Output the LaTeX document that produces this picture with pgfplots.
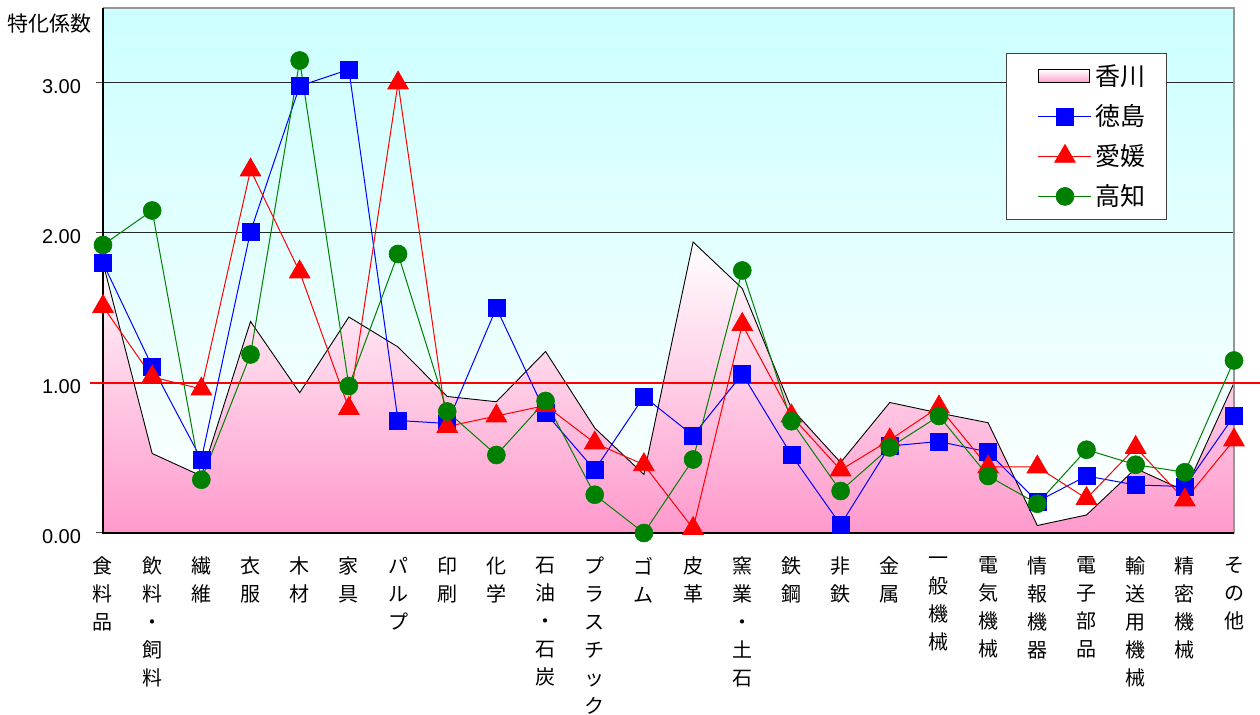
\documentclass[border=0pt]{standalone}
\usepackage{pgfplots}
\pgfplotsset{compat=1.18}
\usepackage{pgfplotstable}
\usepackage{fontspec}
\setmainfont{Liberation Sans}
\newfontfamily\cjk{Noto Sans CJK JP}

\definecolor{cyantop}{RGB}{204,255,255}
\definecolor{pinkbottom}{RGB}{255,153,204}
\definecolor{kgreen}{RGB}{0,128,0}
\definecolor{frame}{RGB}{150,150,150}

% legend pictures: a short line with one mark, and a shaded patch
\pgfplotsset{
  lineimg/.style={legend image code/.code={%
    \path[draw=none, fill=none] (0pt,0pt) -- (7.5pt,0pt);
    \draw[mark repeat=2, mark phase=2, ##1]
      plot coordinates {(7.5pt,0pt) (20.75pt,0pt) (34pt,0pt)};}},
  areaimg/.style={legend image code/.code={%
    \path[draw=none, fill=none] (0pt,0pt) -- (7.5pt,0pt);
    \draw[##1] (7.5pt,-3.25pt) rectangle (33pt,3.25pt);}},
}

% specialization coefficients by industry
\pgfplotstableread{
x  kagawa tokushima ehime kochi
0  1.80   1.80   1.51   1.92
1  0.53   1.11   1.04   2.15
2  0.38   0.49   0.96   0.355
3  1.41   2.01   2.42   1.19
4  0.935  2.98   1.74   3.15
5  1.44   3.09   0.83   0.98
6  1.24   0.75   3.00   1.86
7  0.91   0.73   0.71   0.81
8  0.875  1.50   0.78   0.52
9  1.21   0.80   0.85   0.88
10 0.70   0.42   0.60   0.255
11 0.39   0.91   0.455  0.00
12 1.94   0.65   0.03   0.49
13 1.63   1.06   1.39   1.75
14 0.83   0.52   0.78   0.745
15 0.47   0.055  0.42   0.28
16 0.87   0.58   0.62   0.57
17 0.80   0.61   0.84   0.78
18 0.735  0.54   0.44   0.38
19 0.05   0.21   0.44   0.195
20 0.12   0.38   0.23   0.555
21 0.43   0.32   0.57   0.455
22 0.28   0.31   0.22   0.405
23 1.00   0.78   0.62   1.15
}\coef

\begin{document}
\begin{tikzpicture}
\begin{axis}[
  at={(0,0)}, anchor=south west,
  scale only axis, width=565.5pt, height=262.5pt,
  xmin=0, xmax=23, ymin=0, ymax=3.5,
  clip=false,
  axis background/.style={top color=cyantop, bottom color=white},
  axis line style={draw=none},
  ymajorgrids, grid style={black!85, line width=0.5pt},
  tick pos=left,
  xtick align=inside, ytick align=outside,
  major tick length=3.5pt,
  tick style={black!75, line width=0.5pt},
  ytick={0,1,2,3},
  yticklabel style={font=\fontsize{10}{12}\selectfont, xshift=-4pt, yshift=-2pt},
  /pgf/number format/.cd, fixed, fixed zerofill, precision=2, assume math mode=true,
  /pgfplots/.cd,
  xtick={0,...,23},
  xticklabels={
    {食\\料\\品},{飲\\料\\・\\飼\\料},{繊\\維},{衣\\服},{木\\材},{家\\具},
    {パ\\ル\\プ},{印\\刷},{化\\学},{石\\油\\・\\石\\炭},{プ\\ラ\\ス\\チ\\ッ\\ク},
    {ゴ\\ム},{皮\\革},{窯\\業\\・\\土\\石},{鉄\\鋼},{非\\鉄},{金\\属},
    {一\\般\\機\\械},{電\\気\\機\\械},{情\\報\\機\\器},{電\\子\\部\\品},
    {輸\\送\\用\\機\\械},{精\\密\\機\\械},{そ\\の\\他}},
  xticklabel style={font=\cjk\fontsize{10}{14}\selectfont, align=center,
    anchor=north, yshift=-8.5pt},
  legend cell align=left,
  legend style={at={(0.7984,0.9143)}, anchor=north west,
    draw=black!75, line width=0.5pt, fill=white,
    font=\cjk\fontsize{12.5}{14}\selectfont,
    inner xsep=8.5pt, inner ysep=3.5pt, row sep=4pt},
  lineimg,
]

% Kagawa as a shaded area
\addplot[draw=black, line width=0.45pt, top color=white, bottom color=pinkbottom, areaimg]
  table[x=x, y=kagawa] {\coef} \closedcycle;
\addlegendentry{香川}

% frame of the plot area
\draw[frame, line width=1.2pt] (rel axis cs:0,1) -- (rel axis cs:1,1) -- (rel axis cs:1,0);
\draw[black, line width=1.3pt] (rel axis cs:0,1) -- (rel axis cs:0,0) -- (rel axis cs:1,0);

% reference level 1.00
\draw[red, line width=1pt] ([xshift=-6.5pt]axis cs:0,1) -- ([xshift=13pt]axis cs:23,1);

\addplot[blue, line width=0.5pt, mark=square*, mark size=4.25pt,
  mark options={fill=blue, draw=blue, line width=0.3pt}]
  table[x=x, y=tokushima] {\coef};
\addlegendentry{徳島}

\addplot[red, line width=0.5pt, mark=triangle*, mark size=6pt,
  mark options={fill=red, draw=red, line width=0.3pt}]
  table[x=x, y=ehime] {\coef};
\addlegendentry{愛媛}

\addplot[kgreen, line width=0.5pt, mark=*, mark size=4.5pt,
  mark options={fill=kgreen, draw=kgreen, line width=0.3pt}]
  table[x=x, y=kochi] {\coef};
\addlegendentry{高知}

\node[font=\cjk\fontsize{10.5}{12}\selectfont]
  at ([xshift=-26.5pt, yshift=-8pt]rel axis cs:0,1) {特化係数};
\end{axis}
\pgfresetboundingbox
\path (-51.5pt,-91pt) rectangle (578.5pt,266.5pt);
\end{tikzpicture}
\end{document}
